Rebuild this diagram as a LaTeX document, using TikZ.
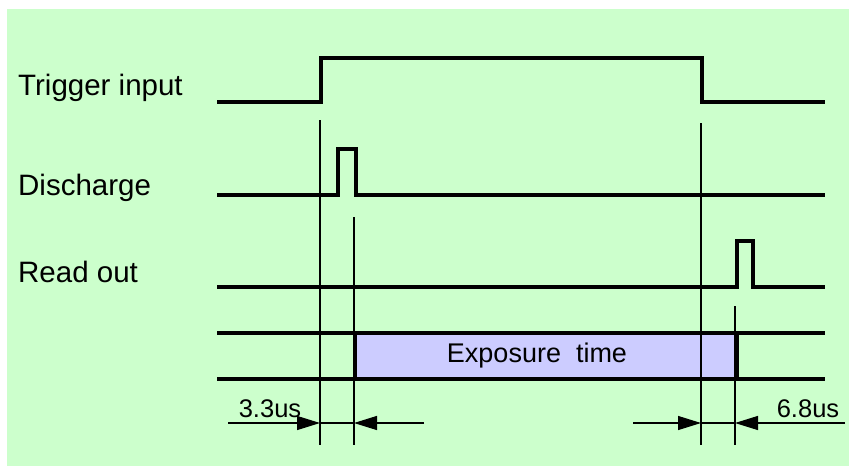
\documentclass[tikz,border=0pt]{standalone}
\usepackage{fontspec}
\setmainfont{Liberation Sans}
\usetikzlibrary{arrows.meta}
\definecolor{bggreen}{HTML}{CCFFCC}
\definecolor{expblue}{HTML}{CCCCFF}
\tikzset{
  signal/.style={line width=3.8pt, line join=miter},
  marker/.style={line width=1.2pt},
  dimline/.style={line width=1.2pt},
  dimarrow/.style={line width=1.2pt, -{Triangle[length=23pt,width=14pt]}},
  sig label/.style={anchor=base west, inner sep=0pt, font=\fontsize{29.5}{31}\selectfont},
  exp label/.style={inner sep=0pt, font=\fontsize{27}{29}\selectfont},
  small label/.style={inner sep=0pt, font=\fontsize{25.5}{27}\selectfont}
}
\begin{document}
\begin{tikzpicture}[x=1pt,y=-1pt]
  \useasboundingbox (0,0) rectangle (849,466);
  \fill[white] (0,0) rectangle (849,466);
  \fill[bggreen] (7,9) rectangle (849,466);

  % signal names
  \node[sig label] (ltrig) at (18,95) {Trigger input};
  \node[sig label] (ldis)  at (18,195) {Discharge};
  \node[sig label] (lread) at (18,282) {Read out};

  % exposure window
  \fill[expblue] (355.5,333) rectangle (737,379);
  \node[exp label] (lexp) at (537,356) {Exposure\ \ time};

  % timing markers
  \draw[marker] (320,120) coordinate (t1top) -- (320,445) coordinate (t1);
  \draw[marker] (354,217) coordinate (t2top) -- (354,445) coordinate (t2);
  \draw[marker] (701,123) coordinate (t3top) -- (701,445) coordinate (t3);
  \draw[marker] (735,306) coordinate (t4top) -- (735,445) coordinate (t4);

  % waveforms
  \draw[signal] (217,102) -- (321,102) -- (321,58) -- (702,58) -- (702,102) -- (825,102);
  \draw[signal] (217,195) -- (338,195) -- (338,149) -- (356,149) -- (356,195) -- (825,195);
  \draw[signal] (217,287) -- (737,287) -- (737,241) -- (753,241) -- (753,287) -- (825,287);
  \draw[signal] (217,333) -- (825,333);
  \draw[signal] (217,379) -- (825,379);
  \draw[signal] (355.5,333) -- (355.5,379);
  \draw[signal] (737,333) -- (737,379);

  % dimension arrows
  \coordinate (d1) at (320,423);
  \coordinate (d2) at (354,423);
  \coordinate (d3) at (701,423);
  \coordinate (d4) at (735,423);
  \draw[dimarrow] (228,423) -- (d1);
  \draw[dimline] (d1) -- (d2);
  \draw[dimarrow] (424,423) -- (d2);
  \draw[dimarrow] (633,423) -- (d3);
  \draw[dimline] (d3) -- (d4);
  \draw[dimarrow] (845,423) -- (d4);

  \node[small label, anchor=base] (l33) at (270,417) {3.3us};
  \node[small label, anchor=base] (l68) at (808,417) {6.8us};
\end{tikzpicture}
\end{document}
